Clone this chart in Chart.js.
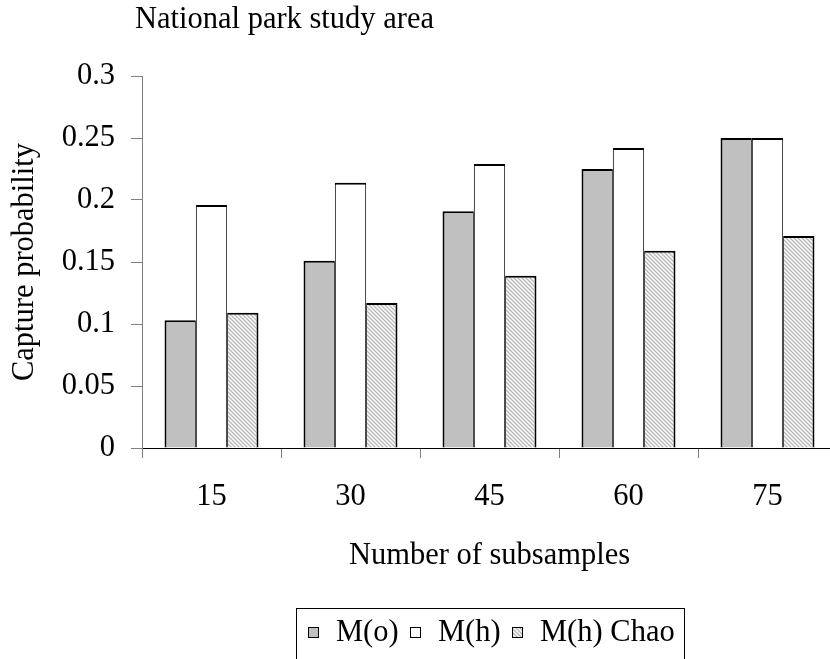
<!DOCTYPE html>
<html>
<head>
<meta charset="utf-8">
<script src="https://cdn.jsdelivr.net/npm/chart.js@4/dist/chart.umd.min.js"></script>
<style>
  html, body { margin: 0; padding: 0; overflow: hidden; background: #fff; }
  #wrap { width: 830px; height: 659px; overflow: hidden; }
</style>
</head>
<body>
<div id="wrap"><canvas id="mychart" width="845" height="659"></canvas></div>
<script>
'use strict';

// data
const categories = ['15', '30', '45', '60', '75'];
const seriesNames = ['M(o)', 'M(h)', 'M(h) Chao'];
const mO = [0.103, 0.151, 0.191, 0.225, 0.250];
const mH = [0.196, 0.214, 0.229, 0.242, 0.250];
const mHChao = [0.109, 0.117, 0.139, 0.159, 0.171];
const yTicks = [0, 0.05, 0.1, 0.15, 0.2, 0.25, 0.3];

const chartTitle = 'National park study area';
const xTitle = 'Number of subsamples';
const yTitle = 'Capture probability';

const FONT = 'Liberation Serif, Times New Roman, serif';
const FS = 30.5;

// grey diagonal hatch for the Chao series
function makeHatch() {
  const c = document.createElement('canvas');
  c.width = 4; c.height = 4;
  const g = c.getContext('2d');
  g.fillStyle = '#ffffff';
  g.fillRect(0, 0, 4, 4);
  g.strokeStyle = '#b6b6b6';
  g.lineWidth = 1.3;
  g.beginPath();
  g.moveTo(-1, -1); g.lineTo(5, 5);
  g.moveTo(-1, 3); g.lineTo(1, 5);
  g.moveTo(3, -1); g.lineTo(5, 1);
  g.stroke();
  return g.createPattern(c, 'repeat');
}
const hatch = makeHatch();

// title top-left, above the plot
const titlePlugin = {
  id: 'titlePlugin',
  afterDraw(chart) {
    const ctx = chart.ctx;
    ctx.save();
    ctx.font = FS + 'px ' + FONT;
    ctx.fillStyle = '#000';
    ctx.textAlign = 'left';
    ctx.textBaseline = 'alphabetic';
    ctx.fillText(chartTitle, chart.chartArea.left - 7, 28);
    ctx.restore();
  }
};

// boxed legend under the x title
const boxLegend = {
  id: 'boxLegend',
  afterDraw(chart) {
    const ctx = chart.ctx;
    const sets = chart.data.datasets;
    ctx.save();
    ctx.font = FS + 'px ' + FONT;
    let content = 0;
    const widths = sets.map(ds => ctx.measureText(ds.label).width);
    widths.forEach((w, i) => { content += 28 + w + (i ? 11 : 0); });
    const boxW = Math.round(content + 22);
    const mid = (chart.chartArea.left + chart.chartArea.right) / 2;
    const boxL = Math.round(mid - boxW / 2) + 0.5;
    const boxT = 608.5;
    ctx.strokeStyle = '#000';
    ctx.lineWidth = 1;
    ctx.strokeRect(boxL, boxT, boxW, 80);

    let x = Math.round(boxL + 11);
    sets.forEach((ds, i) => {
      ctx.fillStyle = ds.backgroundColor;
      ctx.fillRect(x, 627, 11, 11);
      ctx.strokeStyle = '#000';
      ctx.strokeRect(x + 0.5, 627.5, 10, 10);
      ctx.fillStyle = '#000';
      ctx.textAlign = 'left';
      ctx.textBaseline = 'middle';
      ctx.fillText(ds.label, x + 28, 633);
      x = Math.round(x + 28 + widths[i] + 11);
    });
    ctx.restore();
  }
};

const ctx = document.getElementById('mychart').getContext('2d');
const chart1 = new Chart(ctx, {
  type: 'bar',
  data: {
    labels: categories,
    datasets: [{
      label: seriesNames[0],
      data: mO,
      backgroundColor: '#c0c0c0',
      borderColor: '#000',
      borderWidth: {top: 2, left: 2, right: 1, bottom: 0}
    }, {
      label: seriesNames[1],
      data: mH,
      backgroundColor: '#ffffff',
      borderColor: '#000',
      borderWidth: {top: 2, left: 1, right: 1, bottom: 0}
    }, {
      label: seriesNames[2],
      data: mHChao,
      backgroundColor: hatch,
      borderColor: '#000',
      borderWidth: {top: 2, left: 1, right: 2, bottom: 0}
    }]
  },
  options: {
    responsive: false,
    animation: false,
    devicePixelRatio: 1,
    categoryPercentage: 0.676,
    barPercentage: 1.0,
    layout: { padding: { top: 76, right: 8, left: 0, bottom: 0 } },
    plugins: {
      legend: { display: false },
      title: { display: false },
      tooltip: { enabled: false }
    },
    scales: {
      x: {
        afterFit(scale) { scale.height = 211; },
        grid: { display: true, drawOnChartArea: false, tickLength: 10, color: '#808080', offset: true },
        border: { display: true, color: '#000', width: 1 },
        ticks: { color: '#000', padding: 21, font: { family: FONT, size: FS } },
        title: {
          display: true, text: xTitle, color: '#000',
          font: { family: FONT, size: FS }, padding: { top: 0, bottom: 85 }
        }
      },
      y: {
        min: 0,
        max: 0.3,
        afterFit(scale) { scale.width = 142; },
        afterBuildTicks(scale) { scale.ticks = yTicks.map(v => ({ value: v })); },
        grid: { display: true, drawOnChartArea: false, tickLength: 11, color: '#808080' },
        border: { display: true, color: '#808080', width: 1 },
        ticks: {
          color: '#000', padding: 16, font: { family: FONT, size: FS },
          callback: v => String(+v.toFixed(2))
        },
        title: {
          display: true, text: yTitle, color: '#000',
          font: { family: FONT, size: FS }, padding: { top: 7, bottom: 0 }
        }
      }
    }
  },
  plugins: [titlePlugin, boxLegend]
});
</script>
</body>
</html>
